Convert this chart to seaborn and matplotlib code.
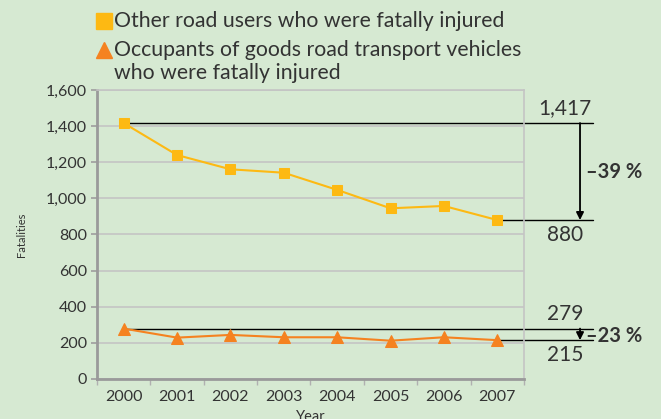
import numpy as np
import pandas as pd
import matplotlib.pyplot as plt
import seaborn as sns
from matplotlib.lines import Line2D
from matplotlib.ticker import FuncFormatter

years = ['2000', '2001', '2002', '2003', '2004', '2005', '2006', '2007']
other_users = [1417, 1240, 1161, 1142, 1047, 945, 958, 880]
goods_occupants = [279, 229, 244, 231, 231, 212, 231, 215]

bg = '#d6e9d2'
yellow = '#fdb913'
orange = '#f58220'

sns.set_theme(style="white")
plt.rcParams['font.family'] = ['Lato', 'DejaVu Sans']

W, H = 661, 419
fig = plt.figure(figsize=(6.61, 4.19), dpi=100, facecolor=bg)
ax = fig.add_axes([0.1467, 0.0955, 0.646, 0.6897])
ax.set_facecolor(bg)

pos = np.arange(len(years))
sns.lineplot(x=pos, y=other_users, ax=ax, color=yellow, marker='s', markersize=7.5,
             markeredgecolor=yellow, linewidth=1.5, zorder=3)
sns.lineplot(x=pos, y=goods_occupants, ax=ax, color=orange, marker='^', markersize=8,
             markeredgecolor=orange, linewidth=1.5, zorder=3)

ax.set_xlim(-0.5, 7.5)
ax.set_ylim(0, 1600)
ax.set_yticks(range(0, 1601, 200))
ax.yaxis.set_major_formatter(FuncFormatter(lambda v, p: f'{int(v):,}'))
ax.set_xticks(pos)
ax.set_xticklabels(years)
ax.set_xticks(np.arange(-0.5, 8, 1), minor=True)
ax.tick_params(axis='x', which='major', length=0, labelsize=11.5, colors='#333333', pad=8)
ax.tick_params(axis='x', which='minor', length=4, color='#b0b0b0', direction='out', bottom=True)
ax.tick_params(axis='y', which='major', length=4, color='#a0a0a0', labelsize=11.5,
               colors='#333333', left=True, pad=3)
ax.grid(axis='y', color='#c4c4c4', linewidth=1.2)
for s in ['left', 'bottom']:
    ax.spines[s].set_color('#9a9a9a')
    ax.spines[s].set_linewidth(2)
for s in ['right', 'top']:
    ax.spines[s].set_color('#c4c4c4')
    ax.spines[s].set_linewidth(1.2)
ax.set_ylabel('Fatalities', fontsize=8, color='#333333', labelpad=14)
ax.set_xlabel('Year', fontsize=10.5, color='#333333', labelpad=4)

# change annotations
x_end, x_arrow, x_txt = 8.8, 8.55, 8.27
for first, last, pct in [(other_users[0], other_users[-1], '\u201339 %'),
                         (goods_occupants[0], goods_occupants[-1], '\u201323 %')]:
    ax.plot([0, x_end], [first, first], color='black', lw=1, clip_on=False, zorder=2)
    ax.plot([7, x_end], [last, last], color='black', lw=1, clip_on=False, zorder=2)
    ax.annotate('', xy=(x_arrow, last), xytext=(x_arrow, first),
                arrowprops=dict(arrowstyle='-|>', color='black', lw=1.3,
                                shrinkA=0, shrinkB=0, mutation_scale=11),
                annotation_clip=False)
    ax.text(x_txt, first + 25, f'{first:,}', ha='center', va='bottom', fontsize=15,
            color='#333333', clip_on=False)
    ax.text(x_txt, last - 25, f'{last:,}', ha='center', va='top', fontsize=15,
            color='#333333', clip_on=False)
    ax.text(x_arrow + 0.12, (first + last) / 2 if first - last > 200 else first - 40, pct,
            ha='left', va='center', fontsize=14.5, fontweight='bold', color='#333333',
            clip_on=False)

# legend drawn by hand so the triangle sits on the first line of its label
legend_items = [(yellow, 's', 11, 21, ['Other road users who were fatally injured']),
                (orange, '^', 12, 50, ['Occupants of goods road transport vehicles',
                                       'who were fatally injured'])]
for col, mk, ms, ypx, lines in legend_items:
    fig.add_artist(Line2D([104 / W], [1 - ypx / H], transform=fig.transFigure,
                          color=col, marker=mk, markersize=ms, linestyle='none'))
    for i, line in enumerate(lines):
        fig.text(114 / W, 1 - (ypx + 23 * i) / H, line, fontsize=15.3, color='#333333',
                 ha='left', va='center')

plt.savefig('out.png', dpi=100, facecolor=bg)
